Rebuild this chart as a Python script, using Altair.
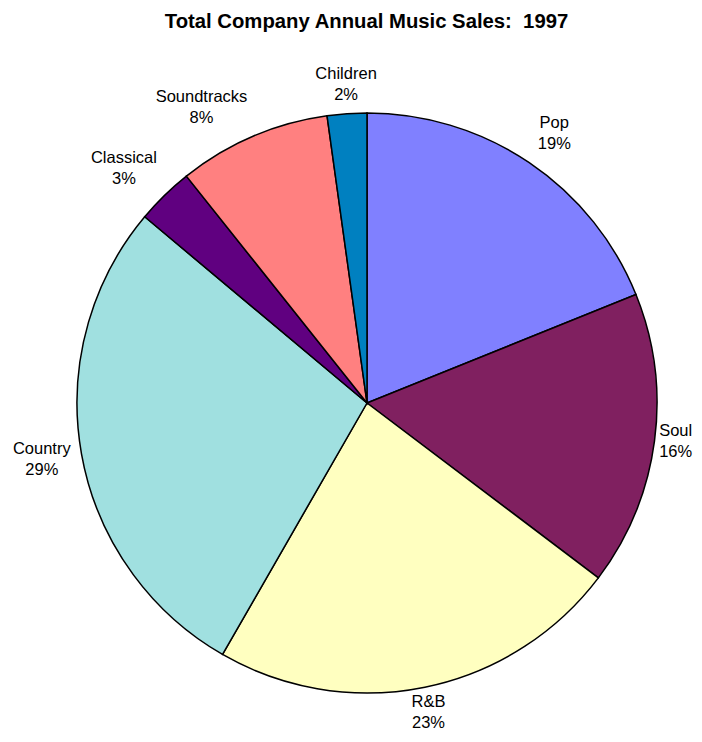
import altair as alt
import pandas as pd
import math

genres = ["Pop", "Soul", "R&B", "Country", "Classical", "Soundtracks", "Children"]
values = [18.9, 16.4, 23.0, 27.8, 3.2, 8.5, 2.2]
pct_labels = ["19%", "16%", "23%", "29%", "3%", "8%", "2%"]
colors = ["#8080FF", "#802060", "#FFFFC0", "#A0E0E0", "#600080", "#FF8080", "#0080C0"]

# label placement (distance from pie centre, angular nudge in degrees), like the original's
label_radius = [328, 311, 316, 330, 338, 339, 319]
label_nudge = [0.8, -0.5, 0.3, 0.3, -1.7, -6.0, 0.2]

df = pd.DataFrame({
    "genre": genres,
    "value": values,
    "idx": list(range(len(genres))),
    "label": [f"{g}\n{p}" for g, p in zip(genres, pct_labels)],
})

CX, CY = 359, 355
LH = 21

base = alt.Chart(df).encode(
    theta=alt.Theta("value:Q", stack=True),
    order=alt.Order("idx:Q", sort="ascending"),
)

pie = base.mark_arc(outerRadius=290, stroke="black", strokeWidth=1.5).encode(
    color=alt.Color("genre:N", scale=alt.Scale(domain=genres, range=colors), legend=None),
    x=alt.value(CX),
    y=alt.value(CY),
)

layers = [pie]
for g, r, n in zip(genres, label_radius, label_nudge):
    layers.append(
        base.mark_text(
            radius=r, thetaOffset=math.radians(n), dy=-LH / 2,
            font="Liberation Sans", fontSize=16.5, lineHeight=LH,
            lineBreak="\n", align="center", baseline="middle", color="black",
        ).encode(
            text="label:N",
            x=alt.value(CX),
            y=alt.value(CY),
            opacity=alt.condition(alt.datum.genre == g, alt.value(1), alt.value(0)),
        )
    )

chart = alt.layer(*layers).properties(
    width=686,
    height=686,
    autosize=alt.AutoSizeParams(type="none"),
    padding={"top": 40, "left": 0, "right": 0, "bottom": 0},
    title=alt.TitleParams(
        "Total Company Annual Music Sales: \u00a01997",
        font="Liberation Sans", fontSize=20.3, fontWeight="bold",
        anchor="middle", dx=15.5, dy=-12, color="black",
    ),
).configure_view(stroke=None)

chart.save("out.html", embed_options={"renderer": "svg", "actions": False})
